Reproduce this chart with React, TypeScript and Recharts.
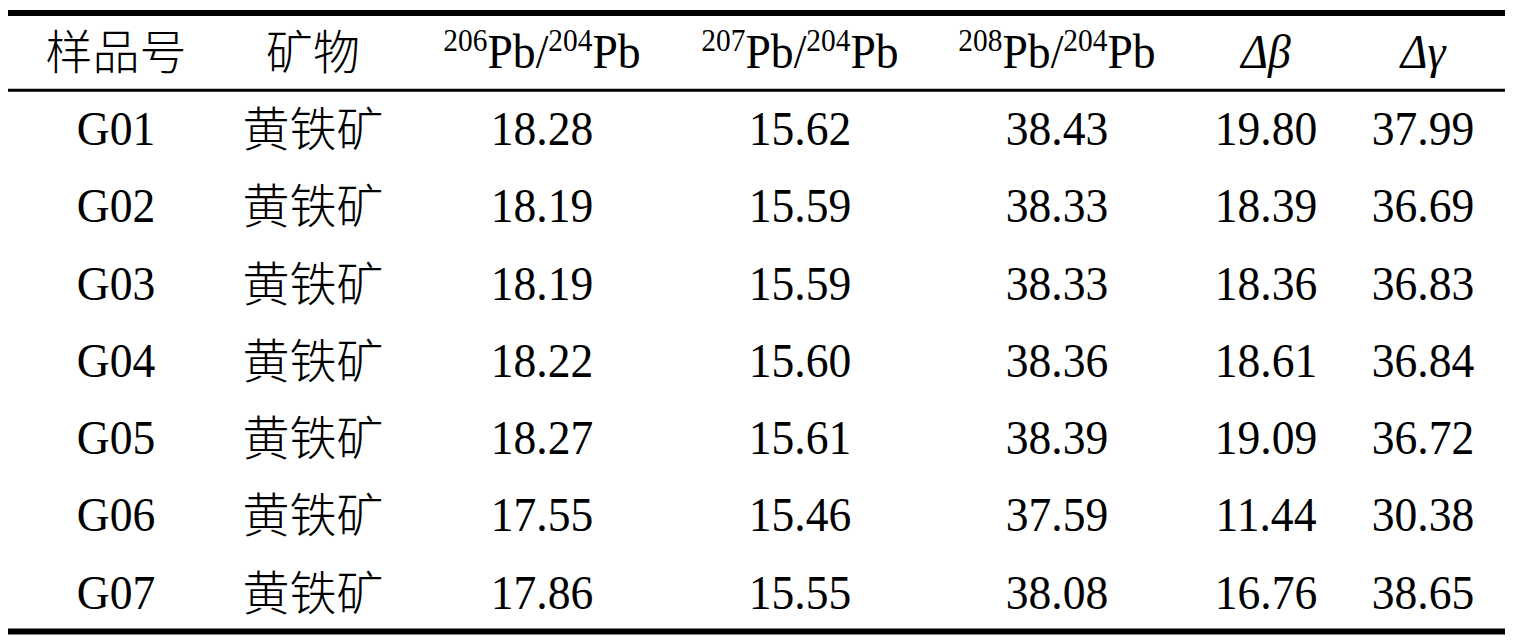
import React from 'react';
import { ScatterChart, Scatter, XAxis, YAxis, ReferenceLine } from 'recharts';

const SAMPLES = ['G01', 'G02', 'G03', 'G04', 'G05', 'G06', 'G07'];
const MINERALS = ['黄铁矿', '黄铁矿', '黄铁矿', '黄铁矿', '黄铁矿', '黄铁矿', '黄铁矿'];
const PB206_204 = [18.28, 18.19, 18.19, 18.22, 18.27, 17.55, 17.86];
const PB207_204 = [15.62, 15.59, 15.59, 15.60, 15.61, 15.46, 15.55];
const PB208_204 = [38.43, 38.33, 38.33, 38.36, 38.39, 37.59, 38.08];
const DELTA_BETA = [19.80, 18.39, 18.36, 18.61, 19.09, 11.44, 16.76];
const DELTA_GAMMA = [37.99, 36.69, 36.83, 36.84, 36.72, 30.38, 38.65];

// column keys, in table order
const COLUMNS = ['sample', 'mineral', 'pb206', 'pb207', 'pb208', 'dBeta', 'dGamma'];

// layout: column centres along the table width (px inside the chart)
const COL_CENTER = [108, 305, 534, 792, 1049, 1258, 1415];

const W = 1497;
const H = 630;
const LATIN = 'Liberation Serif';
const CJK = 'Noto Sans CJK SC';

const columnValues: (string | number)[][] = [SAMPLES, MINERALS, PB206_204, PB207_204, PB208_204, DELTA_BETA, DELTA_GAMMA];

type CellDatum = { x: number; y: number; col: string; text: string; header: boolean };

const cells: CellDatum[] = [];
COLUMNS.forEach((col, c) => {
    cells.push({ x: COL_CENTER[c], y: 0, col, text: col, header: true });
    columnValues[c].forEach((v, r) => {
        cells.push({
            x: COL_CENTER[c],
            y: r + 1,
            col,
            text: typeof v === 'number' ? v.toFixed(2) : v,
            header: false,
        });
    });
});

const PbRatio = ({ top }: { top: string }) => (
    <>
        <tspan fontSize={31} dy={-17}>{top}</tspan>
        <tspan fontSize={48} dy={17}>Pb/</tspan>
        <tspan fontSize={31} dy={-17}>204</tspan>
        <tspan fontSize={48} dy={17}>Pb</tspan>
    </>
);

//draws one table cell as text
const CellText = (props: any) => {
    const { cx, cy, payload } = props;
    const d: CellDatum = payload;
    // latin text in the source is a bit narrow, squeeze it around the column centre
    const squeeze = `translate(${cx} 0) scale(0.95 1) translate(${-cx} 0)`;
    const latin = { x: cx, y: cy + 16, textAnchor: 'middle' as const, fill: '#000', transform: squeeze, style: { fontFamily: LATIN, fontSize: 48 } };
    const cjk = { x: cx, y: cy + 17, textAnchor: 'middle' as const, fill: '#000', style: { fontFamily: CJK, fontSize: 47, fontWeight: 300 } };
    if (d.header) {
        if (d.col === 'sample') return <text {...cjk}>样品号</text>;
        if (d.col === 'mineral') return <text {...cjk}>矿物</text>;
        if (d.col === 'pb206') return <text {...latin}><PbRatio top="206" /></text>;
        if (d.col === 'pb207') return <text {...latin}><PbRatio top="207" /></text>;
        if (d.col === 'pb208') return <text {...latin}><PbRatio top="208" /></text>;
        if (d.col === 'dBeta') return <text {...latin} style={{ ...latin.style, fontStyle: 'italic' }}>Δβ</text>;
        return <text {...latin} style={{ ...latin.style, fontStyle: 'italic' }}>Δγ</text>;
    }
    if (d.col === 'mineral') return <text {...cjk}>{d.text}</text>;
    return <text {...latin}>{d.text}</text>;
};

export default function App() {
    return (
        <ScatterChart width={W} height={H} margin={{ top: 5, right: 0, bottom: 6.6, left: 0 }}>
            <XAxis type="number" dataKey="x" domain={[0, W]} hide />
            <YAxis type="number" dataKey="y" domain={[-0.5, 7.5]} reversed hide />
            <ReferenceLine y={-0.5} stroke="#000" strokeWidth={6} ifOverflow="visible" />
            <ReferenceLine y={0.5} stroke="#000" strokeWidth={3} ifOverflow="visible" />
            <ReferenceLine y={7.5} stroke="#000" strokeWidth={6} ifOverflow="visible" />
            <Scatter data={cells} shape={CellText} isAnimationActive={false} />
        </ScatterChart>
    );
}
